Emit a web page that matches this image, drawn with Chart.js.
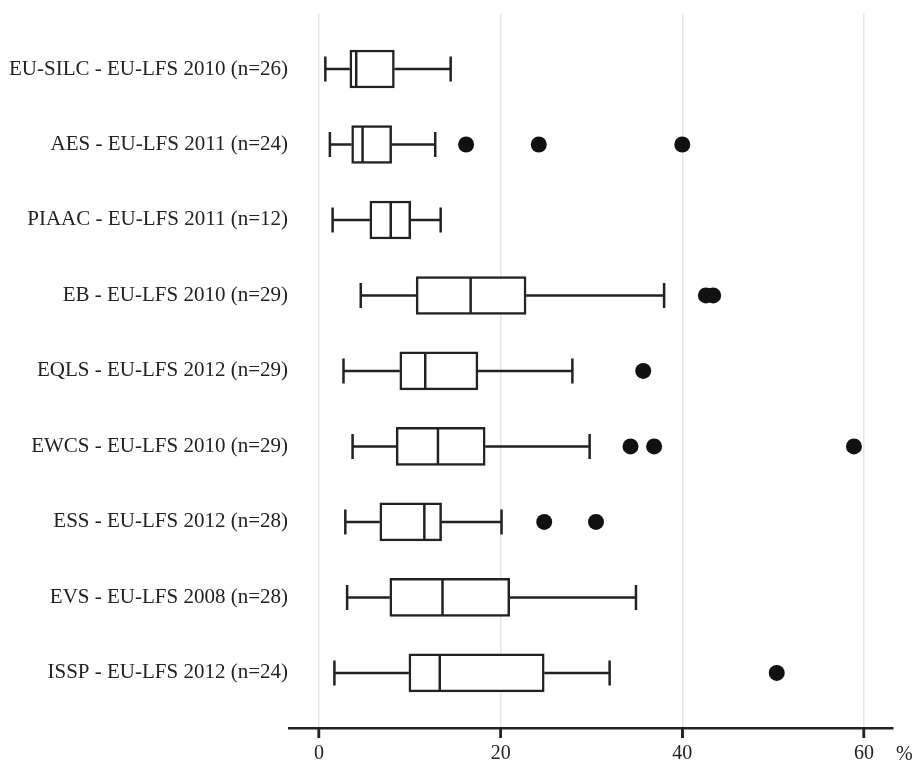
<!DOCTYPE html>
<html>
<head>
<meta charset="utf-8">
<script src="https://cdn.jsdelivr.net/npm/chart.js@4.4.0/dist/chart.umd.min.js"></script>
<style>
  html, body { margin:0; padding:0; background:#fff; }
  #wrap { width:913px; height:766px; position:relative; }
</style>
</head>
<body>
<div id="wrap"><canvas id="chart"></canvas></div>
<script>
const categories = [
  'EU-SILC - EU-LFS 2010 (n=26)',
  'AES - EU-LFS 2011 (n=24)',
  'PIAAC - EU-LFS 2011 (n=12)',
  'EB - EU-LFS 2010 (n=29)',
  'EQLS - EU-LFS 2012 (n=29)',
  'EWCS - EU-LFS 2010 (n=29)',
  'ESS - EU-LFS 2012 (n=28)',
  'EVS - EU-LFS 2008 (n=28)',
  'ISSP - EU-LFS 2012 (n=24)'
];
const whiskerLow  = [0.7, 1.2, 1.5, 4.6, 2.7, 3.7, 2.9, 3.1, 1.7];
const q1          = [3.4, 3.6, 5.6, 10.7, 8.9, 8.5, 6.7, 7.8, 9.9];
const median      = [4.1, 4.8, 7.9, 16.7, 11.7, 13.1, 11.6, 13.6, 13.3];
const q3          = [8.3, 8.0, 10.1, 22.8, 17.5, 18.3, 13.5, 21.0, 24.8];
const whiskerHigh = [14.5, 12.8, 13.4, 38.0, 27.9, 29.8, 20.1, 34.9, 32.0];
const outliers = [
  [],
  [16.2, 24.2, 40.0],
  [],
  [42.6, 43.4],
  [35.7],
  [34.3, 36.9, 58.9],
  [24.8, 30.5],
  [],
  [50.4]
];
const xTicks = [0, 20, 40, 60];

const INK = '#222';
const FONT = 'Liberation Serif, Times New Roman, serif';

const boxData = categories.map((c, i) => ({ x: [q1[i], q3[i]], y: i }));
const outlierData = [];
outliers.forEach((arr, i) => arr.forEach(v => outlierData.push({ x: v, y: i })));

// whiskers, caps, medians and axis ticks, placed with the chart scales
const boxExtras = {
  id: 'boxExtras',
  beforeDatasetsDraw(chart){
    const { ctx, scales:{ x, y } } = chart;
    ctx.save();
    ctx.strokeStyle = INK; ctx.lineWidth = 2.5;
    categories.forEach((c, i) => {
      const cy = y.getPixelForValue(i);
      const cap = 12.5;
      ctx.beginPath();
      ctx.moveTo(x.getPixelForValue(whiskerLow[i]), cy);
      ctx.lineTo(x.getPixelForValue(q1[i]), cy);
      ctx.moveTo(x.getPixelForValue(q3[i]), cy);
      ctx.lineTo(x.getPixelForValue(whiskerHigh[i]), cy);
      ctx.moveTo(x.getPixelForValue(whiskerLow[i]), cy - cap);
      ctx.lineTo(x.getPixelForValue(whiskerLow[i]), cy + cap);
      ctx.moveTo(x.getPixelForValue(whiskerHigh[i]), cy - cap);
      ctx.lineTo(x.getPixelForValue(whiskerHigh[i]), cy + cap);
      ctx.stroke();
    });
    ctx.restore();
  },
  afterDatasetsDraw(chart){
    const { ctx, scales:{ x, y } } = chart;
    ctx.save();
    ctx.strokeStyle = INK; ctx.lineWidth = 2.5;
    categories.forEach((c, i) => {
      const cy = y.getPixelForValue(i);
      const mx = x.getPixelForValue(median[i]);
      ctx.beginPath();
      ctx.moveTo(mx, cy - 18); ctx.lineTo(mx, cy + 18);
      ctx.stroke();
    });
    ctx.restore();
  },
  afterDraw(chart){
    const { ctx, chartArea, scales:{ x } } = chart;
    ctx.save();
    ctx.strokeStyle = INK; ctx.lineWidth = 2.5;
    ctx.beginPath();
    xTicks.forEach(v => {
      const px = x.getPixelForValue(v);
      ctx.moveTo(px, chartArea.bottom); ctx.lineTo(px, chartArea.bottom + 10);
    });
    ctx.stroke();
    ctx.fillStyle = INK;
    ctx.font = '20px ' + FONT;
    ctx.textAlign = 'left'; ctx.textBaseline = 'middle';
    ctx.fillText('%', x.getPixelForValue(60) + 32, 755);
    ctx.restore();
  }
};

new Chart(document.getElementById('chart'), {
  type: 'bar',
  data: {
    datasets: [
      {
        type: 'bar',
        data: boxData,
        backgroundColor: '#fff',
        borderColor: INK,
        borderWidth: 2.5,
        borderSkipped: false,
        barThickness: 38,
        order: 2
      },
      {
        type: 'scatter',
        data: outlierData,
        pointRadius: 8,
        pointBackgroundColor: '#111',
        pointBorderWidth: 0,
        order: 1
      }
    ]
  },
  plugins: [boxExtras],
  options: {
    indexAxis: 'y',
    responsive: true,
    maintainAspectRatio: false,
    animation: false,
    layout: { padding: { top: 6, right: 20, left: 0, bottom: 0 } },
    plugins: { legend:{ display:false }, tooltip:{ enabled:false } },
    scales: {
      x: {
        type: 'linear',
        min: -3.3, max: 63.2,
        afterBuildTicks: s => { s.ticks = xTicks.map(v => ({ value: v })); },
        afterFit: s => { s.height = 38; },
        grid: { color: '#e6e6e6', lineWidth: 1.5, tickColor: INK, tickLength: 10, tickWidth: 2.5 },
        border: { display: true, color: INK, width: 2.5 },
        ticks: { color: INK, font: { family: FONT, size: 20 }, padding: 4, maxRotation: 0 }
      },
      y: {
        type: 'linear',
        reverse: true,
        offset: false,
        min: -0.734, max: 8.73,
        afterBuildTicks: s => { s.ticks = categories.map((c, i) => ({ value: i })); },
        afterFit: s => { s.width = 289; },
        grid: { display: false, drawTicks: false },
        border: { display: false },
        ticks: { color: INK, font: { family: FONT, size: 21 }, padding: 1, callback: v => categories[v] }
      }
    }
  }
});
</script>
</body>
</html>
